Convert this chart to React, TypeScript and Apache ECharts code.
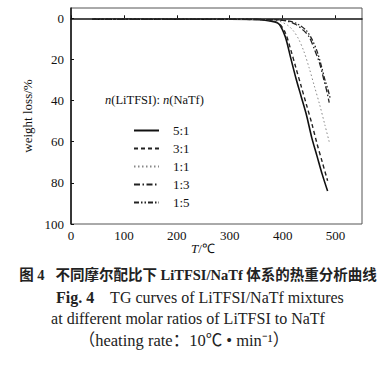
import React, { useEffect, useRef } from "react";
import * as echarts from "echarts";

const ratioNames = ["5:1", "3:1", "1:1", "1:3", "1:5"];

const t51 = [40, 100, 200, 300, 350, 370, 385, 394, 405, 415, 425, 435, 445, 455, 465, 475, 485];
const w51 = [0.5, 0.5, 0.5, 0.5, 0.6, 1.0, 1.8, 3.0, 9, 19, 29, 38, 47, 58, 67, 76, 84];

const t31 = [40, 100, 200, 300, 350, 370, 385, 395, 405, 415, 425, 435, 445, 455, 465, 475, 485];
const w31 = [0.5, 0.5, 0.5, 0.5, 0.6, 0.8, 1.5, 3, 7, 15, 24, 33, 42, 51, 61, 70, 79];

const t11 = [40, 100, 200, 300, 360, 380, 395, 410, 420, 430, 440, 450, 460, 470, 480, 488];
const w11 = [0.5, 0.5, 0.5, 0.5, 0.6, 0.8, 1.5, 3.5, 6, 10, 16, 24, 33, 42, 52, 60];

const t13 = [40, 100, 200, 300, 360, 390, 410, 425, 440, 450, 460, 470, 478, 484, 488];
const w13 = [0.5, 0.5, 0.5, 0.5, 0.6, 0.8, 1.5, 3, 6, 9, 15, 22, 30, 36, 41];

const t15 = [40, 100, 200, 300, 360, 395, 415, 430, 445, 455, 465, 473, 480, 486, 490];
const w15 = [0.5, 0.5, 0.5, 0.5, 0.6, 0.8, 1.5, 3, 6, 10, 16, 23, 30, 35, 39];

const xTicks = [0, 100, 200, 300, 400, 500];
const yTicks = [0, 20, 40, 60, 80, 100];

const serif = "Liberation Serif";

function pairs(t: number[], w: number[]) {
  return t.map((v, i) => [v, w[i]]);
}

export default function App() {
  const ref = useRef<HTMLDivElement>(null);
  useEffect(() => {
    if (!ref.current) return;
    const chart = echarts.init(ref.current, undefined, { renderer: "svg" });
    const styles = [
      { color: "#111", width: 1.6, type: "solid" as any },
      { color: "#222", width: 1.4, type: [4, 3] as any },
      { color: "#888", width: 1, type: [1.5, 2.5] as any },
      { color: "#222", width: 1.3, type: [6, 2.5, 1.5, 2.5] as any },
      { color: "#222", width: 1.3, type: [5, 2, 1.5, 2, 1.5, 2] as any },
    ];
    const datasets = [
      pairs(t51, w51),
      pairs(t31, w31),
      pairs(t11, w11),
      pairs(t13, w13),
      pairs(t15, w15),
    ];
    chart.setOption({
      animation: false,
      grid: {
        left: 71,
        top: 8,
        width: 291,
        height: 216,
        show: true,
        borderColor: "#555",
        borderWidth: 1,
      },
      xAxis: {
        type: "value",
        min: 0,
        max: 550,
        splitLine: { show: false },
        axisLine: { lineStyle: { color: "#111", width: 1.5 } },
        axisTick: { inside: true, length: 3, customValues: xTicks, lineStyle: { color: "#111" } },
        axisLabel: {
          customValues: xTicks,
          color: "#111",
          fontFamily: serif,
          fontSize: 13,
          margin: 5,
        },
      },
      yAxis: {
        type: "value",
        inverse: true,
        min: -5,
        max: 100,
        splitLine: { show: false },
        axisLine: { lineStyle: { color: "#111", width: 1.5 } },
        axisTick: { inside: true, length: 3, customValues: yTicks, lineStyle: { color: "#111" } },
        axisLabel: {
          customValues: yTicks,
          color: "#111",
          fontFamily: serif,
          fontSize: 13,
          margin: 7,
        },
        name: "weight loss/%",
        nameLocation: "middle",
        nameGap: 23,
        nameTextStyle: { color: "#111", fontFamily: serif, fontSize: 13 },
      },
      legend: {
        orient: "vertical",
        left: 128,
        top: 119,
        itemWidth: 25,
        itemHeight: 10,
        itemGap: 5,
        data: ratioNames,
        itemStyle: { opacity: 0 },
        textStyle: { color: "#111", fontFamily: serif, fontSize: 13, padding: [0, 0, 0, 9] },
      },
      series: ratioNames.map((name, i) => ({
        name,
        type: "line",
        data: datasets[i],
        symbol: "none",
        smooth: 0.3,
        lineStyle: styles[i],
        itemStyle: { color: styles[i].color },
      })),
      graphic: [
        {
          type: "text",
          left: 105,
          top: 93,
          style: {
            text: "{i|n}(LiTFSI): {i|n}(NaTf)",
            fill: "#111",
            fontFamily: serif,
            fontSize: 12.5,
            rich: {
              i: { fontStyle: "italic", fontFamily: serif, fontSize: 12.5, fill: "#111" },
            },
          },
        },
        {
          type: "text",
          x: 203,
          y: 248,
          style: {
            text: "{i|T}/℃",
            fill: "#111",
            fontFamily: serif,
            fontSize: 13,
            align: "center",
            verticalAlign: "middle",
            rich: {
              i: { fontStyle: "italic", fontFamily: serif, fontSize: 13, fill: "#111" },
            },
          },
        },
        {
          type: "text",
          x: 198,
          y: 275,
          style: {
            text: "图 4   不同摩尔配比下 LiTFSI/NaTf 体系的热重分析曲线",
            fill: "#222",
            fontFamily: "Liberation Serif, Noto Sans CJK SC",
            fontWeight: "bold",
            fontSize: 14.5,
            align: "center",
            verticalAlign: "middle",
          },
        },
        {
          type: "text",
          x: 200,
          y: 297,
          style: {
            text: "{b|Fig. 4}    TG curves of LiTFSI/NaTf mixtures",
            fill: "#222",
            fontFamily: serif,
            fontSize: 16,
            align: "center",
            verticalAlign: "middle",
            rich: {
              b: { fontWeight: "bold", fontFamily: serif, fontSize: 16, fill: "#222" },
            },
          },
        },
        {
          type: "text",
          x: 188,
          y: 318,
          style: {
            text: "at different molar ratios of LiTFSI to NaTf",
            fill: "#222",
            fontFamily: serif,
            fontSize: 16,
            align: "center",
            verticalAlign: "middle",
          },
        },
        {
          type: "text",
          x: 184,
          y: 340,
          style: {
            text: "（heating rate：10℃ • min⁻¹）",
            fill: "#222",
            fontFamily: "Liberation Serif, Noto Sans CJK SC",
            fontSize: 16.5,
            align: "center",
            verticalAlign: "middle",
          },
        },
      ],
    });
    return () => chart.dispose();
  }, []);
  return (
    <div
      ref={ref}
      style={{ position: "absolute", left: 0, top: 0, width: 389, height: 366, background: "#fff" }}
    />
  );
}
